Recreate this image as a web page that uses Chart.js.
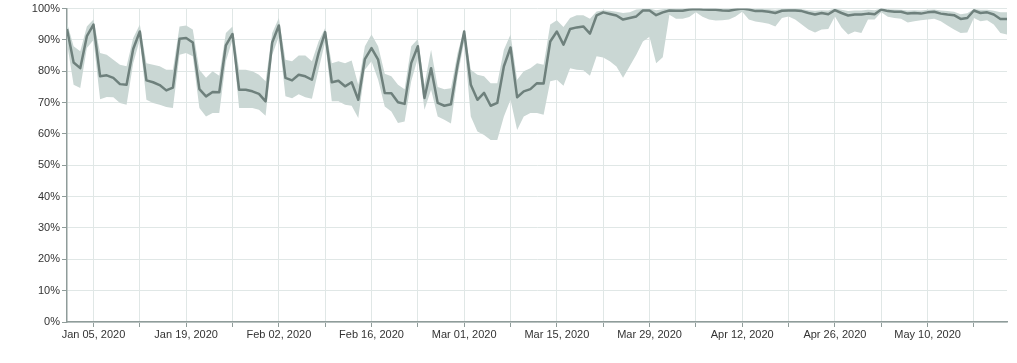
<!DOCTYPE html>
<html><head><meta charset="utf-8">
<script src="https://cdn.jsdelivr.net/npm/chart.js@4/dist/chart.umd.min.js"></script>
<style>html,body{margin:0;padding:0;background:#fff}</style>
</head><body>
<canvas id="c" width="1017" height="363"></canvas>
<script>
const startDate = '2020-01-01';
// daily mean share (%), Jan 01 .. May 22 2020
const meanValues = [
 93.5,82.8,81,91.2,94.9,78.4,78.7,77.9,75.9,75.7,87.1,92.7,77.1,76.5,75.6,73.9,74.8,90.4,90.6,89.2,74.3,72,73.4,73.3,88.3,91.9,74.1,74.1,73.6,72.8,70.4,
 89.2,94.6,77.9,77.1,78.9,78.4,77.3,85.8,92.5,76.5,77,75.2,76.5,70.9,83.9,87.4,83.7,73.1,73,70.1,69.6,82.6,88,71.5,81,69.9,69,69.5,82.1,
 92.7,75.7,70.9,73.1,69,69.9,81.6,87.6,71.7,73.6,74.3,76.2,76.1,89.5,92.7,88.5,93.5,94,94.3,92,97.8,98.8,98.3,97.8,96.5,97,97.5,99.4,99.4,97.9,98.8,
 99.4,99.3,99.3,99.7,99.9,99.7,99.6,99.6,99.4,99.3,99.7,100,99.7,99.2,99.2,99,98.6,99.3,99.4,99.4,99.2,98.6,98.1,98.6,98.2,99.5,98.6,97.8,98.1,98.1,
 98.4,98.2,99.7,99.2,99,99,98.4,98.6,98.4,98.8,99,98.4,98.1,97.9,96.7,97,99.4,98.6,98.8,98.1,96.7,96.7
];
const lowValues = [
 89,75.7,74.7,87.4,90,71.1,71.8,71.7,69.9,69.3,82.6,90.1,70.9,69.9,69.3,68.6,68.3,85.3,85.8,84.8,68.3,65.6,66.7,66.7,83.2,90.1,68.3,68.3,68.3,67.7,65.8,
 85.3,91,72,71.4,72.7,71.7,71.2,80.5,89.5,70.4,70.4,69.3,69,65.1,80.5,83.2,77.3,68.8,67.2,63.5,64,76.8,84.2,67.7,74.1,65.6,64.5,63.3,78.4,
 89.5,65.6,60.8,59.7,58.1,58.1,65.6,70.9,61.3,65.6,66.7,66.7,66.1,76.8,77.3,75.4,81,80.5,80.3,78.6,84.8,84.4,83.2,81.5,77.9,81.6,85.3,89.5,91,82.6,84.5,
 98,96.8,96.8,97.3,98.8,97.4,96.5,96.2,96.3,96.5,97.5,99,96.5,95.9,95.6,95.2,94.3,97,97.5,96.5,94.9,93.3,92.4,93.3,93.5,97.5,94,91.7,92.7,92.2,
 96.5,96.5,98.8,97.4,97,96.8,95.6,96,96.3,96.5,96.8,96,94.6,93.3,92.2,92.4,97,96,96.3,94.9,92.2,91.7
];
const highValues = [
 95.5,88,86.4,94.3,96.5,85.8,85.3,83.7,82.1,81.6,90.6,94.9,82.6,82.1,81.6,80.5,80.5,94.3,94.6,93.3,80.5,77.9,80,78.6,92.2,94.3,80.5,80.5,80,78.9,76.8,
 92.2,97,83.7,83.2,85,85,83.2,89.5,93.8,82.6,83.2,82.6,83.4,75.7,88,91.7,88,79.2,78.4,75.7,74.3,88,90.3,75.7,86.9,75,74.3,74.6,85.8,
 93.5,80.5,78.9,78.4,76.2,76.2,86.9,91.7,77.3,80,81,82.6,82.1,94.9,96.3,94.1,97,97.9,97.9,96.8,99.1,99.5,99.3,99,98.6,98.8,99.7,99.9,100,99.5,99.8,
 100,100,100,100,100,100,100,100,100,100,100,100,100,99.9,99.9,99.8,99.6,99.9,100,100,99.8,99.5,99.3,99.5,99.4,100,99.6,99.2,99.4,99.4,
 99.6,99.5,100,99.8,99.7,99.6,99.4,99.5,99.4,99.6,99.7,99.4,99.2,99,98.2,98.5,99.9,99.6,99.6,99.3,98.8,98.8
];
const tickDays = [4,11,18,25,32,39,46,53,60,67,74,81,88,95,102,109,116,123,130,137];
const tickLabels = ['Jan 05, 2020','','Jan 19, 2020','','Feb 02, 2020','','Feb 16, 2020','','Mar 01, 2020','',
  'Mar 15, 2020','','Mar 29, 2020','','Apr 12, 2020','','Apr 26, 2020','','May 10, 2020',''];
const yTicks = [0,10,20,30,40,50,60,70,80,90,100];

const pts = arr => arr.map((v, i) => ({x: i, y: v}));
const font = {family: '"Liberation Sans", Arial, sans-serif', size: 11};
const gridColor = '#e0e7e6';
const axisColor = '#8f9c9a';

new Chart(document.getElementById('c'), {
  type: 'line',
  data: {datasets: [
    {label: 'mean', data: pts(meanValues), borderColor: '#6e807c', borderWidth: 2.5, pointRadius: 0,
     fill: false, borderJoinStyle: 'round'},
    {label: 'low', data: pts(lowValues), borderColor: 'transparent', borderWidth: 0, pointRadius: 0, fill: false},
    {label: 'high', data: pts(highValues), borderColor: 'transparent', borderWidth: 0, pointRadius: 0,
     fill: '-1', backgroundColor: '#cad7d4'}
  ]},
  options: {
    responsive: false, animation: false, devicePixelRatio: 1,
    layout: {padding: {top: 3, right: 10, left: 0, bottom: 0}},
    plugins: {legend: {display: false}, tooltip: {enabled: false}},
    scales: {
      x: {
        type: 'linear', min: 0, max: meanValues.length - 1,
        afterBuildTicks: s => { s.ticks = tickDays.map(v => ({value: v})); },
        afterFit: s => { s.height = 41; },
        ticks: {autoSkip: false, maxRotation: 0, font, color: '#333', padding: 1,
          callback: v => tickLabels[tickDays.indexOf(v)] ?? ''},
        grid: {color: gridColor, tickColor: axisColor, tickLength: 5},
        border: {color: axisColor, width: 1.5}
      },
      y: {
        min: 0, max: 100,
        afterBuildTicks: s => { s.ticks = yTicks.map(v => ({value: v})); },
        afterFit: s => { s.width = 67; },
        ticks: {font, color: '#333', padding: 2, callback: v => v + '%'},
        grid: {color: gridColor, tickColor: axisColor, tickLength: 5},
        border: {color: axisColor, width: 1.5}
      }
    }
  }
});
</script>
</body></html>
